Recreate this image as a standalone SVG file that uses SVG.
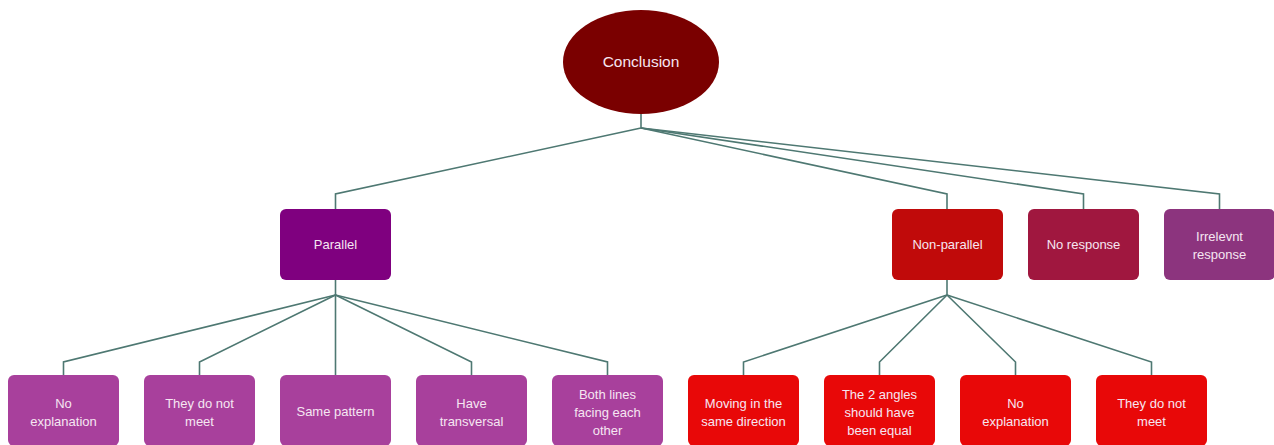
<svg xmlns="http://www.w3.org/2000/svg" width="1274" height="445" viewBox="0 0 1274 445">
<style>
.t{font-family:"Liberation Sans",Arial,sans-serif;font-size:13px;fill:#f6e6f2;text-anchor:middle}
.c{fill:none;stroke:#4e7872;stroke-width:1.6}
.pp{fill:#a8409c}
.rr{fill:#e80808}
</style>
<rect width="1274" height="445" fill="#ffffff"/>
<g id="connectors">
<polyline class="c" points="641,113 641,128"/>
<polyline class="c" points="641,128 335.5,194 335.5,209"/>
<polyline class="c" points="641,128 947,194 947,209"/>
<polyline class="c" points="641,128 1083.5,194 1083.5,209"/>
<polyline class="c" points="641,128 1219.5,194 1219.5,209"/>
<polyline class="c" points="335.5,280 335.5,295"/>
<polyline class="c" points="335.5,295 63.5,362 63.5,375"/>
<polyline class="c" points="335.5,295 199.5,362 199.5,375"/>
<polyline class="c" points="335.5,295 335.5,375"/>
<polyline class="c" points="335.5,295 471.5,362 471.5,375"/>
<polyline class="c" points="335.5,295 607.5,362 607.5,375"/>
<polyline class="c" points="947,280 947,295"/>
<polyline class="c" points="947,295 743.5,362 743.5,375"/>
<polyline class="c" points="947,295 879.5,362 879.5,375"/>
<polyline class="c" points="947,295 1015.5,362 1015.5,375"/>
<polyline class="c" points="947,295 1151.5,362 1151.5,375"/>
</g>
<g id="conclusion">
<ellipse cx="641" cy="62" rx="78" ry="52" fill="#7a0000"/>
<text class="t" x="641" y="67" style="font-size:15.5px">Conclusion</text>
</g>
<g id="parallel">
<rect x="280" y="209" width="111" height="71" rx="6" fill="#7f007f"/>
<text class="t" x="335.5" y="249">Parallel</text>
</g>
<g id="nonparallel">
<rect x="892" y="209" width="111" height="71" rx="6" fill="#c00a0a"/>
<text class="t" x="947.5" y="249">Non-parallel</text>
</g>
<g id="noresponse">
<rect x="1028" y="209" width="111" height="71" rx="6" fill="#a0173f"/>
<text class="t" x="1083.5" y="249">No response</text>
</g>
<g id="irrelevant">
<rect x="1164" y="209" width="111" height="71" rx="6" fill="#8c347e"/>
<text class="t" x="1219.5" y="241">Irrelevnt</text>
<text class="t" x="1219.5" y="259">response</text>
</g>
<g id="p1">
<rect class="pp" x="8" y="375" width="111" height="71" rx="6"/>
<text class="t" x="63.5" y="408">No</text>
<text class="t" x="63.5" y="426">explanation</text>
</g>
<g id="p2">
<rect class="pp" x="144" y="375" width="111" height="71" rx="6"/>
<text class="t" x="199.5" y="408">They do not</text>
<text class="t" x="199.5" y="426">meet</text>
</g>
<g id="p3">
<rect class="pp" x="280" y="375" width="111" height="71" rx="6"/>
<text class="t" x="335.5" y="416">Same pattern</text>
</g>
<g id="p4">
<rect class="pp" x="416" y="375" width="111" height="71" rx="6"/>
<text class="t" x="471.5" y="408">Have</text>
<text class="t" x="471.5" y="426">transversal</text>
</g>
<g id="p5">
<rect class="pp" x="552" y="375" width="111" height="71" rx="6"/>
<text class="t" x="607.5" y="399">Both lines</text>
<text class="t" x="607.5" y="417">facing each</text>
<text class="t" x="607.5" y="435">other</text>
</g>
<g id="n1">
<rect class="rr" x="688" y="375" width="111" height="71" rx="6"/>
<text class="t" x="743.5" y="408">Moving in the</text>
<text class="t" x="743.5" y="426">same direction</text>
</g>
<g id="n2">
<rect class="rr" x="824" y="375" width="111" height="71" rx="6"/>
<text class="t" x="879.5" y="399">The 2 angles</text>
<text class="t" x="879.5" y="417">should have</text>
<text class="t" x="879.5" y="435">been equal</text>
</g>
<g id="n3">
<rect class="rr" x="960" y="375" width="111" height="71" rx="6"/>
<text class="t" x="1015.5" y="408">No</text>
<text class="t" x="1015.5" y="426">explanation</text>
</g>
<g id="n4">
<rect class="rr" x="1096" y="375" width="111" height="71" rx="6"/>
<text class="t" x="1151.5" y="408">They do not</text>
<text class="t" x="1151.5" y="426">meet</text>
</g>
</svg>
